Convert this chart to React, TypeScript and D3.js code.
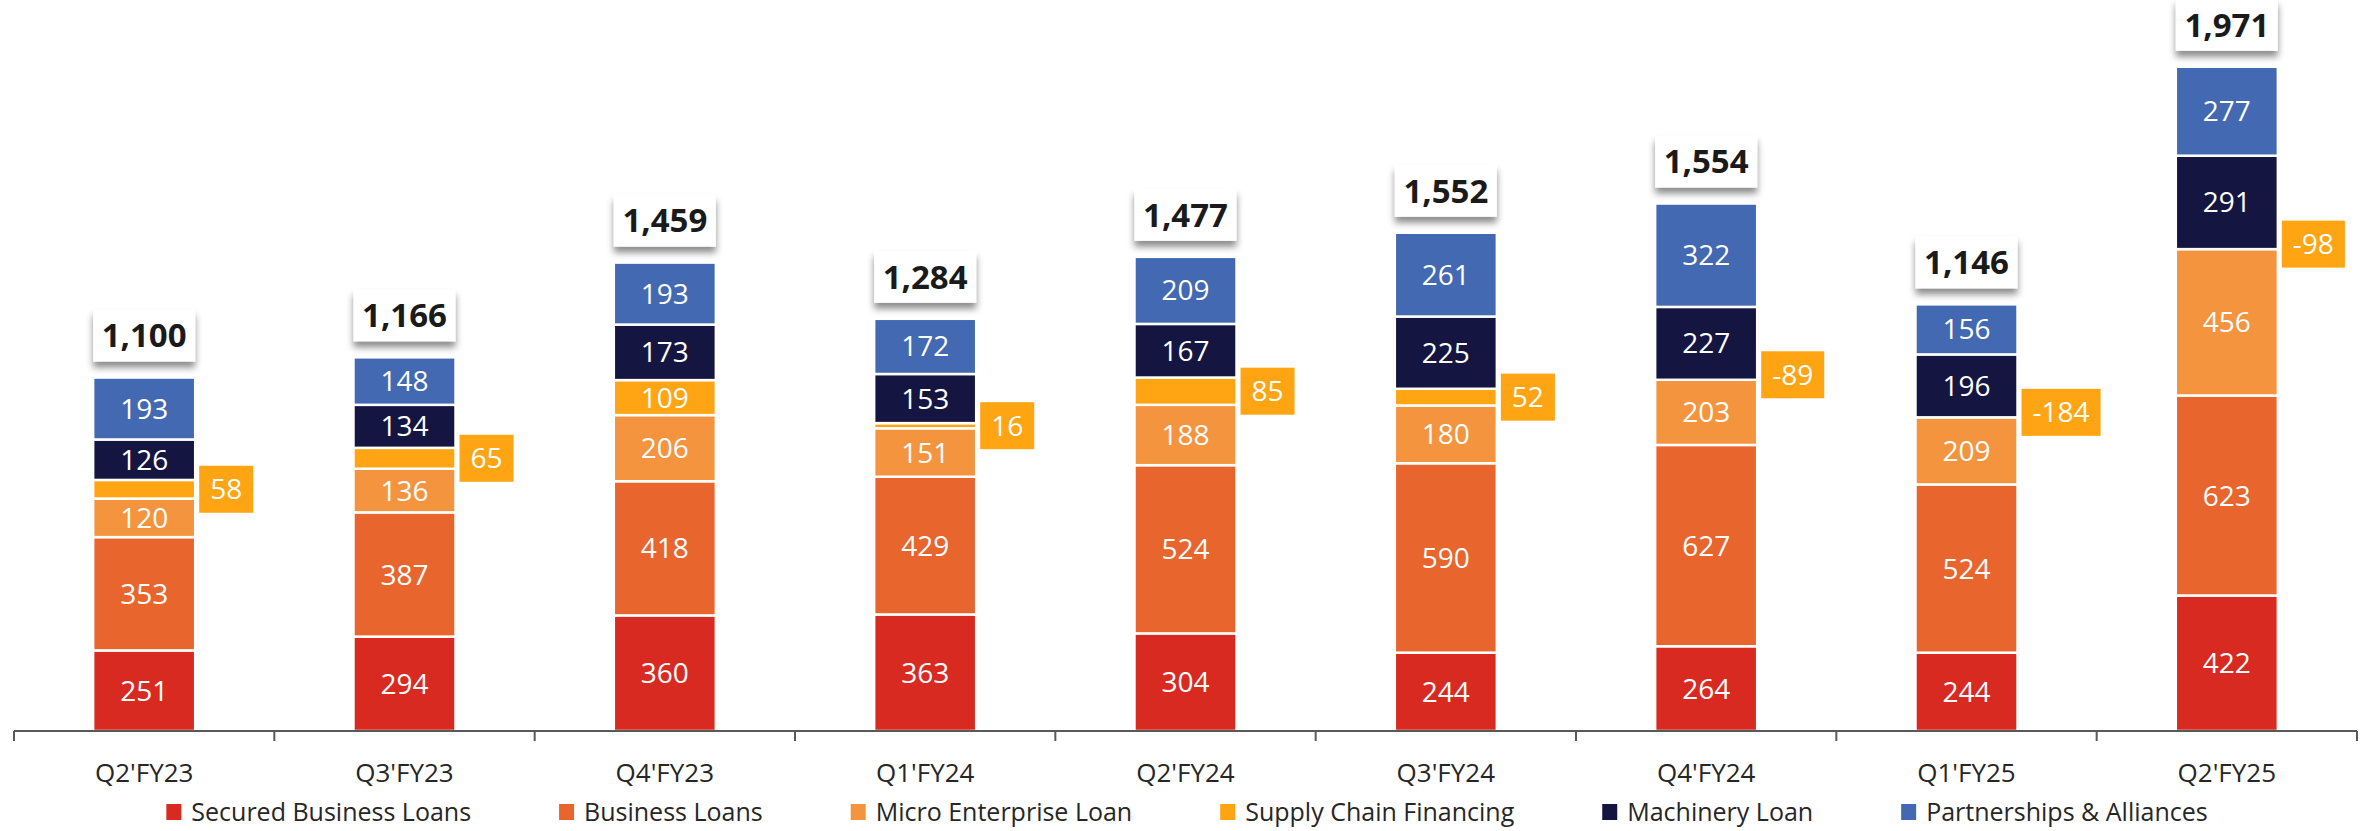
import React, { useRef, useEffect } from 'react';
import * as d3 from 'd3';

const categories = ["Q2'FY23", "Q3'FY23", "Q4'FY23", "Q1'FY24", "Q2'FY24", "Q3'FY24", "Q4'FY24", "Q1'FY25", "Q2'FY25"];
const securedBusinessLoans = [251, 294, 360, 363, 304, 244, 264, 244, 422];
const businessLoans = [353, 387, 418, 429, 524, 590, 627, 524, 623];
const microEnterpriseLoan = [120, 136, 206, 151, 188, 180, 203, 209, 456];
const supplyChainFinancing = [58, 65, 109, 16, 85, 52, -89, -184, -98];
const machineryLoan = [126, 134, 173, 153, 167, 225, 227, 196, 291];
const partnershipsAlliances = [193, 148, 193, 172, 209, 261, 322, 156, 277];
const totals = [1100, 1166, 1459, 1284, 1477, 1552, 1554, 1146, 1971];

const seriesNames = ['Secured Business Loans', 'Business Loans', 'Micro Enterprise Loan', 'Supply Chain Financing', 'Machinery Loan', 'Partnerships & Alliances'];
const seriesValues = [securedBusinessLoans, businessLoans, microEnterpriseLoan, supplyChainFinancing, machineryLoan, partnershipsAlliances];
const colors = ['#D92A21', '#E8652E', '#F4943F', '#FFA514', '#141641', '#4269B1'];

const FONT = "'Open Sans', 'Noto Sans', sans-serif";

const App = () => {
    const svgRef = useRef<SVGSVGElement>(null);
    const width = 2362;
    const height = 831;

    useEffect(() => {
        document.body.style.margin = '0';
        const svg = d3.select(svgRef.current);
        svg.selectAll('*').remove();

        const axisY = 731;

        // scales
        const x = d3.scaleBand<string>()
            .domain(categories)
            .range([14, 2357])
            .paddingInner(0.608)
            .paddingOuter(0.304);
        const y = d3.scaleLinear()
            .domain([0, 2277])
            .range([axisY, 0]);

        const defs = svg.append('defs');
        const f = defs.append('filter').attr('id', 'shadow')
            .attr('x', '-20%').attr('y', '-20%').attr('width', '140%').attr('height', '160%');
        f.append('feDropShadow')
            .attr('dx', 0).attr('dy', 6).attr('stdDeviation', 3.5)
            .attr('flood-color', '#000').attr('flood-opacity', 0.45);

        const bars = svg.append('g');
        const labels = svg.append('g');

        categories.forEach((cat, i) => {
            const x0 = x(cat)!;
            const bw = x.bandwidth();
            let cum = 0;
            seriesValues.forEach((vals, s) => {
                const v = vals[i];
                const base = cum;
                if (v > 0) {
                    const top = cum + v;
                    bars.append('rect')
                        .attr('x', x0)
                        .attr('y', y(top))
                        .attr('width', bw)
                        .attr('height', y(base) - y(top))
                        .attr('fill', colors[s])
                        .attr('stroke', '#fff')
                        .attr('stroke-width', 2.5);
                    cum = top;
                }
                const segH = v > 0 ? y(base) - y(base + v) : 0;
                // negative values are not stacked; their label sits at the join
                const cy = v > 0 ? y(base + v / 2) : y(base) - 5;
                if (s === 3 && segH < 32) {
                    // side label box
                    const t = labels.append('text')
                        .attr('x', 0)
                        .attr('y', cy)
                        .attr('dy', '0.36em')
                        .attr('fill', '#fff')
                        .style('font-family', FONT)
                        .style('font-size', '28px')
                        .attr('text-anchor', 'middle')
                        .text(String(v));
                    const tw = (t.node() as SVGTextElement).getComputedTextLength();
                    const boxW = tw + 22;
                    const bx = x0 + bw + 4;
                    labels.insert('rect', () => t.node())
                        .attr('x', bx)
                        .attr('y', cy - 23.5)
                        .attr('width', boxW)
                        .attr('height', 47)
                        .attr('fill', colors[3]);
                    t.attr('x', bx + boxW / 2);
                } else if (v > 0) {
                    labels.append('text')
                        .attr('x', x0 + bw / 2)
                        .attr('y', cy)
                        .attr('dy', '0.36em')
                        .attr('text-anchor', 'middle')
                        .attr('fill', '#fff')
                        .style('font-family', FONT)
                        .style('font-size', '28px')
                        .text(String(v));
                }
            });
            // total box
            const topY = y(cum);
            const boxBottom = topY - 16;
            labels.append('rect')
                .attr('x', x0)
                .attr('y', boxBottom - 52)
                .attr('width', bw)
                .attr('height', 52)
                .attr('fill', '#fff')
                .attr('filter', 'url(#shadow)');
            labels.append('text')
                .attr('x', x0 + bw / 2)
                .attr('y', boxBottom - 26)
                .attr('dy', '0.36em')
                .attr('text-anchor', 'middle')
                .attr('fill', '#1a1a1a')
                .style('font-family', FONT)
                .style('font-weight', 700)
                .style('font-size', '33px')
                .text(d3.format(',')(totals[i]));
        });

        // x axis
        const xAxis = svg.append('g');
        const [r0, r1] = x.range();
        xAxis.append('line')
            .attr('x1', r0).attr('x2', r1)
            .attr('y1', axisY).attr('y2', axisY)
            .attr('stroke', '#595959').attr('stroke-width', 2);
        const tickXs = categories.map(c => x(c)! - x.step() * x.paddingInner() / 2);
        tickXs.push(r1);
        xAxis.selectAll('.tick')
            .data(tickXs)
            .enter()
            .append('line')
            .attr('x1', d => d).attr('x2', d => d)
            .attr('y1', axisY).attr('y2', axisY + 10)
            .attr('stroke', '#595959').attr('stroke-width', 2);
        xAxis.selectAll('.xlab')
            .data(categories)
            .enter()
            .append('text')
            .attr('x', d => x(d)! + x.bandwidth() / 2)
            .attr('y', 782)
            .attr('text-anchor', 'middle')
            .attr('fill', '#262626')
            .style('font-family', FONT)
            .style('font-size', '26px')
            .text(d => d);

        // legend
        const legend = svg.append('g');
        const items = seriesNames.map((name, s) => {
            const g = legend.append('g');
            g.append('rect')
                .attr('x', 0).attr('y', 804)
                .attr('width', 15).attr('height', 16)
                .attr('fill', colors[s]);
            const t = g.append('text')
                .attr('x', 25).attr('y', 821)
                .attr('fill', '#262626')
                .style('font-family', FONT)
                .style('font-size', '25px')
                .text(name);
            const w = 25 + (t.node() as SVGTextElement).getComputedTextLength();
            return { g, w };
        });
        const gap = 88;
        const total = d3.sum(items, d => d.w) + gap * (items.length - 1);
        let lx = 1187 - total / 2;
        items.forEach(it => {
            it.g.attr('transform', `translate(${lx},0)`);
            lx += it.w + gap;
        });
    }, []);

    return (
        <svg ref={svgRef} width={width} height={height} style={{ display: 'block', background: '#fff' }}></svg>
    );
};

export default App;
